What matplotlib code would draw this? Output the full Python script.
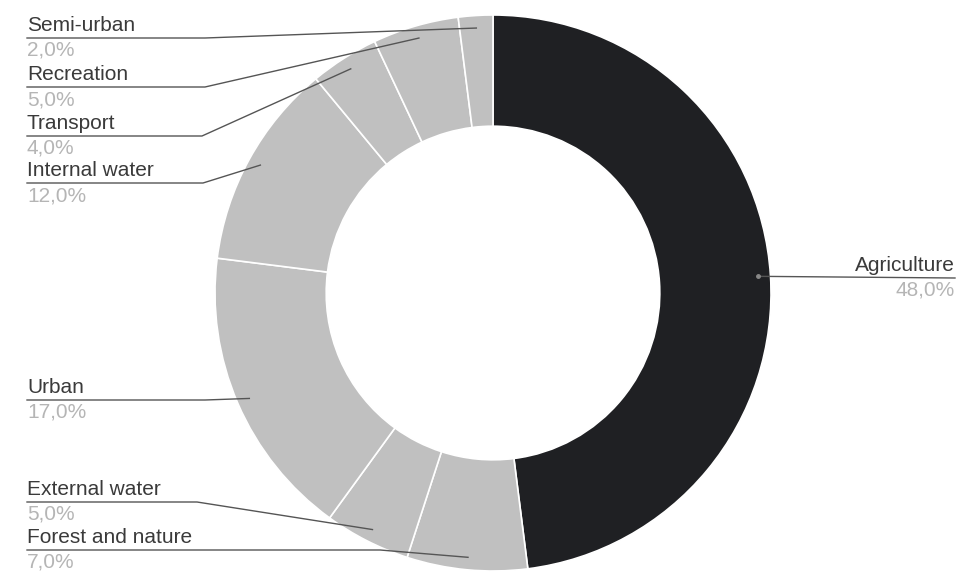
import matplotlib
matplotlib.use('Agg')
import matplotlib.pyplot as plt
import numpy as np

# Land use shares (%), clockwise from 12 o'clock
categories = ["Agriculture", "Forest and nature", "External water", "Urban",
              "Internal water", "Transport", "Recreation", "Semi-urban"]
shares = [48.0, 7.0, 5.0, 17.0, 12.0, 4.0, 5.0, 2.0]
pct_labels = ["48,0%", "7,0%", "5,0%", "17,0%", "12,0%", "4,0%", "5,0%", "2,0%"]

colors = ["#1f2023"] + ["#c0c0c0"] * 7

# Layout (pixels from top) for the label leader lines
W, H = 958, 573
line_y_px = [278, 550, 502, 400, 183, 136, 87, 38]
elbow_x = [None, 380, 197, 205, 203, 202, 205, 205]
left_x = 27
right_x = 955

fig = plt.figure(figsize=(W / 100, H / 100), dpi=100)
ax = fig.add_axes([0, 0, 1, 1])

cx, cy = 493, H - 293
R = 278
wedges, _ = ax.pie(shares, colors=colors, startangle=90, counterclock=False,
                   center=(cx, cy), radius=R,
                   wedgeprops=dict(width=R * 0.4, edgecolor="white", linewidth=1.2))

ax.set_xlim(0, W)
ax.set_ylim(0, H)
ax.set_aspect("equal")
ax.axis("off")

line_col = "#555555"
txt_col = "#3a3a3a"
pct_col = "#b5b5b5"
fs = 15

for i, w in enumerate(wedges):
    ang = np.deg2rad((w.theta1 + w.theta2) / 2)
    r = R * 0.955
    ax_ = cx + r * np.cos(ang)
    ay_ = cy + r * np.sin(ang)
    ly = H - line_y_px[i]
    if i == 0:
        ax.plot([ax_, right_x], [ay_, ly], color=line_col, lw=1)
        ax.plot(ax_, ay_, marker="o", ms=2.5, color="#888888")
        ax.text(right_x, ly + 3, categories[i], ha="right", va="bottom",
                fontsize=fs, color=txt_col, family="Liberation Sans")
        ax.text(right_x, ly - 3, pct_labels[i], ha="right", va="top",
                fontsize=fs, color=pct_col, family="Liberation Sans")
    else:
        ax.plot([ax_, elbow_x[i], left_x], [ay_, ly, ly], color=line_col, lw=1)
        ax.text(left_x, ly + 3, categories[i], ha="left", va="bottom",
                fontsize=fs, color=txt_col, family="Liberation Sans")
        ax.text(left_x, ly - 3, pct_labels[i], ha="left", va="top",
                fontsize=fs, color=pct_col, family="Liberation Sans")

fig.savefig("out.png", dpi=100, facecolor="white")
